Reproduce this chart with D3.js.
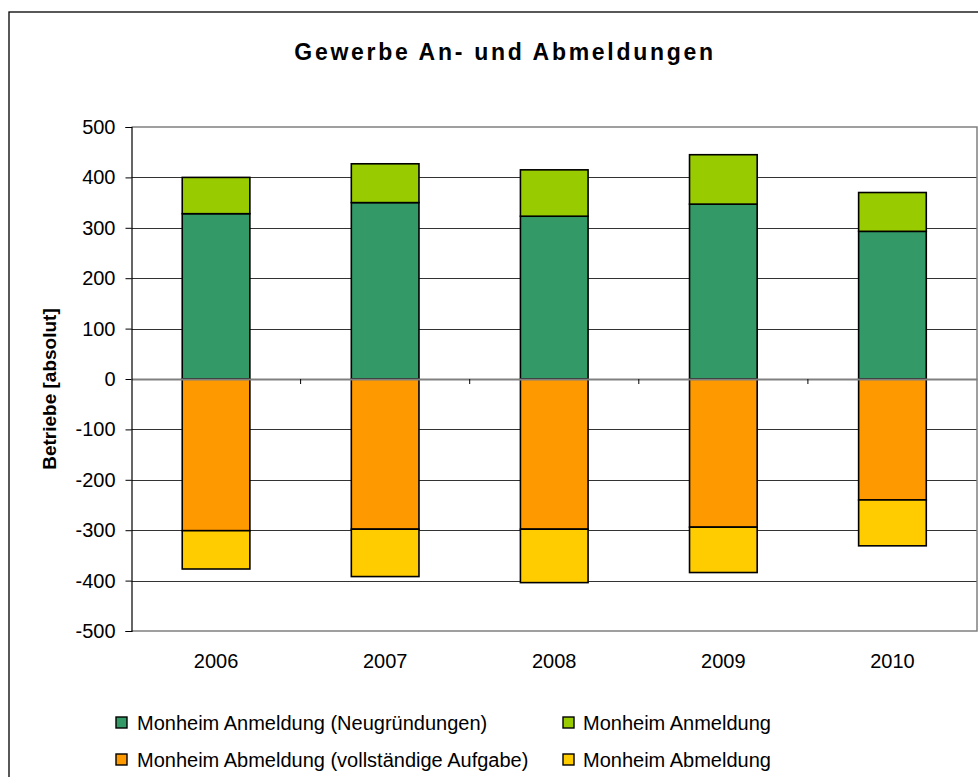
<!DOCTYPE html>
<html>
<head>
<meta charset="utf-8">
<script src="https://cdn.jsdelivr.net/npm/d3@7"></script>
<style>
  html, body { margin: 0; padding: 0; background: #fff; }
  svg { display: block; font-family: "Liberation Sans", Arial, sans-serif; }
</style>
</head>
<body>
<svg id="chart" width="978" height="777"></svg>
<script>
// ---- data ----
const years = ["2006", "2007", "2008", "2009", "2010"];
const anmeldungNeu = [328, 350, 323, 347, 293];      // Monheim Anmeldung (Neugründungen)
const anmeldung = [72, 77, 92, 98, 77];              // Monheim Anmeldung
const abmeldungAufgabe = [-301, -298, -298, -294, -240]; // Monheim Abmeldung (vollständige Aufgabe)
const abmeldung = [-76, -94, -106, -90, -91];        // Monheim Abmeldung
const yTicks = [500, 400, 300, 200, 100, 0, -100, -200, -300, -400, -500];
const seriesNames = [
  "Monheim Anmeldung (Neugründungen)",
  "Monheim Anmeldung",
  "Monheim Abmeldung (vollständige Aufgabe)",
  "Monheim Abmeldung"
];
const seriesColors = ["#339966", "#99CC00", "#FF9900", "#FFCC00"];

// ---- layout ----
const svg = d3.select("#chart");
const plot = { left: 131.5, right: 977, top: 127, bottom: 631 };

// outer frame
svg.append("rect")
  .attr("x", 9).attr("y", 12).attr("width", 1000).attr("height", 1000)
  .attr("fill", "none").attr("stroke", "#000").attr("stroke-width", 1.3);

// title
svg.append("text")
  .attr("x", 505).attr("y", 60)
  .attr("text-anchor", "middle")
  .attr("font-size", 23).attr("font-weight", "bold")
  .attr("letter-spacing", 2.7)
  .text("Gewerbe An- und Abmeldungen");

const x = d3.scaleBand().domain(years).range([plot.left, plot.right]).paddingInner(0).paddingOuter(0);
const y = d3.scaleLinear().domain([-500, 500]).range([plot.bottom, plot.top]);

// gridlines
svg.append("g").selectAll("line").data(yTicks.filter(t => t !== 0 && t !== -500 && t !== 500))
  .join("line")
  .attr("x1", plot.left).attr("x2", plot.right)
  .attr("y1", d => Math.round(y(d)) + 0.5).attr("y2", d => Math.round(y(d)) + 0.5)
  .attr("stroke", "#333").attr("stroke-width", 1);

// plot frame (top, right, bottom)
svg.append("path")
  .attr("d", `M${plot.left},${y(500)}H${plot.right}V${y(-500)}H${plot.left}`)
  .attr("fill", "none").attr("stroke", "#808080").attr("stroke-width", 1.5);

// bars
const bw = x.bandwidth() * 0.4;
const stacks = years.map((yr, i) => [
  { s: 0, y0: 0, y1: anmeldungNeu[i] },
  { s: 1, y0: anmeldungNeu[i], y1: anmeldungNeu[i] + anmeldung[i] },
  { s: 2, y0: 0, y1: abmeldungAufgabe[i] },
  { s: 3, y0: abmeldungAufgabe[i], y1: abmeldungAufgabe[i] + abmeldung[i] }
].map(d => Object.assign(d, { yr })));

svg.append("g").selectAll("rect").data(stacks.flat())
  .join("rect")
  .attr("x", d => x(d.yr) + (x.bandwidth() - bw) / 2)
  .attr("width", bw)
  .attr("y", d => y(Math.max(d.y0, d.y1)))
  .attr("height", d => Math.abs(y(d.y0) - y(d.y1)))
  .attr("fill", d => seriesColors[d.s])
  .attr("stroke", "#000").attr("stroke-width", 1.6);

// zero axis (category axis)
const xAxis = d3.axisBottom(x).tickSize(0).tickFormat("");
const gx = svg.append("g").attr("transform", `translate(0,${y(0)})`).call(xAxis);
gx.select(".domain").attr("stroke", "#808080").attr("stroke-width", 2);
// category boundary tick marks
svg.append("g").selectAll("line").data(years.slice(1))
  .join("line")
  .attr("x1", d => x(d)).attr("x2", d => x(d))
  .attr("y1", y(0)).attr("y2", y(0) + 5)
  .attr("stroke", "#000").attr("stroke-width", 1);

// category labels
svg.append("g").selectAll("text").data(years)
  .join("text")
  .attr("x", d => x(d) + x.bandwidth() / 2)
  .attr("y", 668)
  .attr("text-anchor", "middle")
  .attr("font-size", 20)
  .attr("fill", "#000")
  .text(d => d);

// y axis
const yAxis = d3.axisLeft(y).tickValues(yTicks).tickSize(6).tickPadding(10).tickFormat(d => String(d));
const gy = svg.append("g").attr("transform", `translate(${plot.left},0)`).call(yAxis);
gy.select(".domain").attr("stroke", "#000").attr("stroke-width", 1.2);
gy.selectAll(".tick line").attr("stroke", "#000");
gy.selectAll(".tick text").attr("font-size", 20).attr("fill", "#000")
  .attr("font-family", "'Liberation Sans', Arial, sans-serif");

// y axis title
svg.append("text")
  .attr("transform", "translate(56,389) rotate(-90)")
  .attr("text-anchor", "middle")
  .attr("font-size", 19).attr("font-weight", "bold")
  .text("Betriebe [absolut]");

// legend
const legendPos = [
  { sx: 116, tx: 137, y: 730 },
  { sx: 563, tx: 583, y: 730 },
  { sx: 116, tx: 137, y: 767 },
  { sx: 563, tx: 583, y: 767 }
];
const lg = svg.append("g").selectAll("g").data(seriesNames).join("g");
lg.append("rect")
  .attr("x", (d, i) => legendPos[i].sx)
  .attr("y", (d, i) => legendPos[i].y - 13)
  .attr("width", 11).attr("height", 11)
  .attr("fill", (d, i) => seriesColors[i])
  .attr("stroke", "#000").attr("stroke-width", 1.4);
lg.append("text")
  .attr("x", (d, i) => legendPos[i].tx)
  .attr("y", (d, i) => legendPos[i].y)
  .attr("font-size", 20)
  .attr("fill", "#000")
  .text(d => d);
</script>
</body>
</html>
